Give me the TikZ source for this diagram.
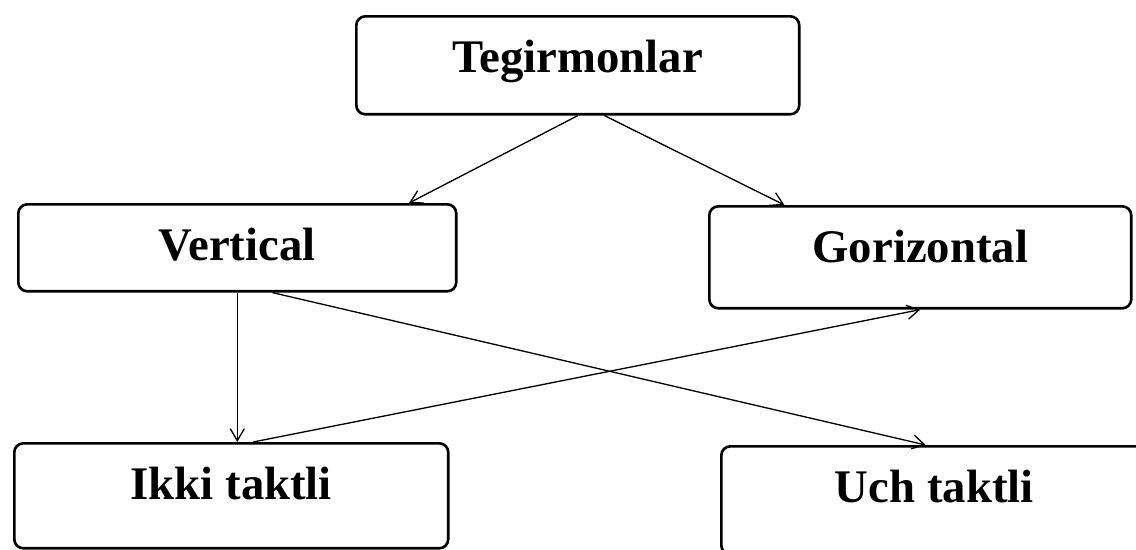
\documentclass[tikz,border=0pt]{standalone}
\usepackage{fontspec}
\setmainfont{Liberation Serif}
\usepackage{tikz}
\usetikzlibrary{positioning, calc, arrows.meta}

\tikzset{
  blok/.style={draw, line width=1.5pt, rounded corners=1.8mm, inner sep=0pt,
    anchor=north west, text height=1.12cm, font=\bfseries\fontsize{26.6}{30}\selectfont},
  strelka/.style={-{Straight Barb[length=2.4mm, width=2.8mm]}, line width=0.75pt}
}

\begin{document}
\begin{tikzpicture}[x=0.02cm, y=-0.02cm]
  \useasboundingbox (0,0) rectangle (1136,549);
  \node[blok, minimum width=8.86cm, text depth=0.84cm] (tegir) at (355,15) {Tegirmonlar};
  \node[blok, minimum width=8.76cm, text depth=0.62cm] (vert) at (17,203) {Vertical};
  \node[blok, minimum width=8.44cm, text depth=0.92cm] (gor) at (708,205) {Gorizontal};
  \node[blok, minimum width=8.68cm, text depth=0.98cm] (ikki) at (13,442) {Ikki taktli};
  \node[blok, minimum width=8.52cm, text depth=1.04cm] (uch) at (720,445) {Uch taktli};
  \draw[strelka] (tegir.south) -- ($(vert.north west)!0.89!(vert.north east)$);
  \draw[strelka] ($(tegir.south west)!0.56!(tegir.south east)$) -- ($(gor.north west)!0.18!(gor.north east)$);
  \draw[strelka] (vert.south) -- (vert.south |- ikki.north);
  \draw[strelka] ($(vert.south west)!0.58!(vert.south east)$) -- ($(uch.north west)!0.48!(uch.north east)$);
  \draw[strelka] ($(ikki.north west)!0.55!(ikki.north east)$) -- (gor.south);
\end{tikzpicture}
\end{document}
